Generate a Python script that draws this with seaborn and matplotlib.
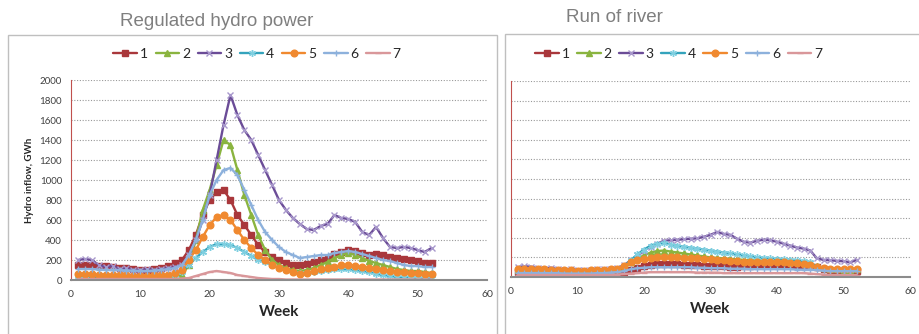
import numpy as np
import pandas as pd
import seaborn as sns
import matplotlib.pyplot as plt
from matplotlib.lines import Line2D
from matplotlib.patches import Rectangle

weeks = list(range(1, 53))
series_names = ["1", "2", "3", "4", "5", "6", "7"]

# Regulated hydro power, GWh per week
reg_1 = [150, 150, 150, 140, 140, 130, 120, 120, 110, 100, 100, 110, 120, 140, 170, 200, 300, 450, 650, 800,
         880, 900, 800, 650, 550, 450, 350, 280, 230, 200, 170, 150, 150, 160, 180, 200, 220, 260, 280, 300,
         290, 270, 250, 260, 250, 230, 220, 210, 200, 190, 170, 170]
reg_2 = [30, 30, 25, 25, 20, 20, 15, 10, 5, 0, 0, 0, 5, 10, 30, 50, 150, 400, 700, 900,
         1150, 1400, 1350, 1100, 850, 650, 450, 300, 200, 150, 120, 100, 90, 100, 120, 150, 180, 220, 250, 270,
         250, 220, 190, 170, 150, 130, 110, 100, 90, 90, 80, 70]
reg_3 = [200, 210, 200, 150, 130, 140, 110, 120, 100, 100, 110, 100, 110, 120, 130, 150, 250, 400, 600, 850,
         1200, 1550, 1850, 1650, 1500, 1400, 1250, 1100, 950, 800, 700, 620, 560, 510, 500, 540, 560, 650, 620, 610,
         580, 480, 450, 530, 420, 330, 320, 330, 320, 300, 280, 320]
reg_4 = [40, 40, 35, 35, 30, 30, 30, 30, 25, 25, 25, 30, 30, 40, 50, 80, 150, 220, 280, 330,
         360, 360, 350, 320, 280, 240, 200, 180, 150, 120, 100, 80, 70, 70, 80, 90, 100, 110, 110, 110,
         100, 90, 80, 60, 50, 40, 30, 30, 25, 20, 20, 20]
reg_5 = [60, 60, 60, 55, 55, 50, 50, 50, 45, 45, 45, 50, 50, 55, 70, 100, 200, 300, 430, 550,
         630, 650, 600, 500, 400, 320, 250, 200, 150, 120, 100, 80, 60, 70, 90, 110, 120, 130, 150, 150,
         140, 130, 120, 110, 100, 90, 80, 80, 70, 70, 60, 60]
reg_6 = [110, 110, 110, 105, 100, 100, 100, 95, 95, 90, 90, 95, 100, 110, 120, 150, 250, 400, 600, 850,
         1000, 1100, 1120, 1050, 900, 750, 600, 480, 400, 330, 280, 250, 220, 230, 240, 250, 250, 270, 280, 290,
         280, 260, 240, 220, 200, 190, 170, 150, 140, 140, 130, 130]
reg_7 = [10, 10, 10, 10, 10, 10, 10, 10, 10, 10, 10, 10, 10, 10, 10, 15, 20, 40, 60, 80,
         90, 80, 70, 50, 40, 30, 20, 15, 10, 10, 5, 5, 5, 5, 5, 5, 5, 5, 5, 5,
         5, 5, 5, 5, 5, 5, 5, 5, 5, 5, 5, 5]

# Run of river, GWh per week
ror_1 = [50, 55, 55, 50, 45, 45, 40, 35, 30, 25, 25, 25, 25, 30, 35, 40, 50, 70, 90, 110,
         120, 130, 135, 130, 130, 125, 120, 120, 115, 115, 110, 110, 105, 105, 110, 115, 120, 125, 130, 130,
         130, 125, 120, 115, 110, 100, 80, 70, 65, 60, 60, 60]
ror_2 = [70, 75, 75, 70, 70, 65, 65, 60, 60, 60, 60, 60, 65, 70, 75, 80, 100, 150, 190, 220,
         250, 265, 270, 260, 250, 240, 230, 220, 210, 200, 195, 190, 185, 180, 175, 170, 170, 170, 170, 170,
         165, 160, 155, 150, 140, 110, 90, 80, 80, 75, 75, 80]
ror_3 = [100, 110, 105, 90, 85, 95, 80, 75, 80, 75, 70, 75, 80, 80, 85, 95, 120, 170, 220, 270,
         310, 340, 370, 375, 380, 385, 390, 395, 410, 430, 460, 440, 430, 390, 360, 350, 370, 380, 375, 360,
         340, 320, 300, 290, 270, 190, 175, 170, 165, 160, 150, 175]
ror_4 = [70, 75, 75, 70, 70, 70, 65, 65, 65, 60, 60, 65, 65, 70, 75, 80, 110, 170, 230, 280,
         320, 340, 350, 330, 320, 310, 300, 290, 280, 270, 260, 250, 240, 230, 220, 210, 200, 195, 190, 185,
         180, 175, 170, 160, 150, 100, 90, 80, 80, 75, 75, 80]
ror_5 = [80, 85, 85, 80, 80, 75, 70, 70, 70, 65, 65, 70, 70, 75, 80, 85, 110, 150, 170, 185,
         195, 200, 205, 200, 200, 195, 195, 190, 185, 180, 175, 170, 165, 160, 155, 155, 155, 155, 150, 150,
         150, 145, 140, 130, 120, 100, 90, 85, 85, 80, 80, 80]
ror_6 = [40, 40, 40, 40, 40, 40, 40, 35, 35, 35, 35, 35, 40, 40, 45, 50, 60, 80, 90, 95,
         100, 100, 100, 100, 100, 100, 100, 95, 95, 90, 90, 90, 85, 85, 85, 80, 80, 80, 80, 80,
         80, 80, 75, 75, 75, 70, 65, 60, 60, 60, 60, 60]
ror_7 = [20, 20, 20, 20, 20, 20, 20, 20, 20, 20, 20, 20, 20, 20, 20, 25, 30, 35, 40, 45,
         50, 50, 50, 50, 50, 50, 50, 45, 45, 45, 45, 40, 40, 40, 40, 40, 40, 40, 40, 40,
         40, 40, 40, 40, 35, 30, 25, 20, 20, 20, 20, 20]

reg = [reg_1, reg_2, reg_3, reg_4, reg_5, reg_6, reg_7]
ror = [ror_1, ror_2, ror_3, ror_4, ror_5, ror_6, ror_7]

line_colors = ["#A9373B", "#8AB43F", "#6B4C97", "#34A3BC", "#F0892F", "#8DB1DC", "#D9979A"]
mark_colors = ["#A9373B", "#8AB43F", "#A898CC", "#7FCFE0", "#F0892F", "#8DB1DC", "#D9979A"]
markers = ["s", "^", "x", (6, 2, 0), "o", "+", "_"]
msizes = [4.8, 4.8, 5, 5, 4.8, 5, 4]

sns.set_style("white")
plt.rcParams['font.family'] = ['Lato', 'DejaVu Sans']

fig = plt.figure(figsize=(9.19, 3.34), dpi=100)

# panel frames like the Excel chart areas
fig.patches.append(Rectangle((8 / 919, -0.05), 489 / 919, 1 - 35 / 334 + 0.05, transform=fig.transFigure,
                             fill=False, edgecolor="#BFBFBF", linewidth=1))
fig.patches.append(Rectangle((505 / 919, -0.05), 0.5, 1 - 34 / 334 + 0.05, transform=fig.transFigure,
                             fill=False, edgecolor="#BFBFBF", linewidth=1))

ax1 = fig.add_axes([71 / 919, 1 - 280 / 334, 416 / 919, 200 / 334])
ax2 = fig.add_axes([511 / 919, 1 - 277 / 334, 399 / 919, 196 / 334])


def draw(ax, data):
    for i, vals in enumerate(data):
        df = pd.DataFrame({"Week": weeks, "GWh": vals})
        sns.lineplot(data=df, x="Week", y="GWh", ax=ax, color=line_colors[i], linewidth=1.7,
                     marker=markers[i], markersize=msizes[i], markerfacecolor=mark_colors[i],
                     markeredgecolor=mark_colors[i], markeredgewidth=1.0)
    ax.set_xlim(0, 60)
    ax.set_ylim(0, 2000)
    ax.set_xticks(range(0, 61, 10))
    ax.set_yticks(range(0, 2001, 200))
    ax.grid(False)
    ax.grid(True, axis="y", linestyle=(0, (1, 1.5)), color="#999999", linewidth=0.8, zorder=0)
    ax.set_axisbelow(True)
    for s in ["top", "right"]:
        ax.spines[s].set_visible(False)
    ax.spines["left"].set_color("#C0504D")
    ax.spines["bottom"].set_color("#8C8C8C")
    ax.spines["bottom"].set_linewidth(1.5)
    ax.tick_params(axis="x", colors="#8C8C8C", labelcolor="#404040", labelsize=7.5, length=4, direction="out")
    ax.tick_params(axis="y", colors="#C0504D", labelcolor="#404040", labelsize=7, length=3, direction="out")
    ax.set_xlabel("Week", fontsize=11, fontweight="bold", color="#262626")
    handles = [Line2D([0], [0], color=line_colors[i], linewidth=1.7, marker=markers[i], markersize=msizes[i],
                      markerfacecolor=mark_colors[i], markeredgecolor=mark_colors[i]) for i in range(7)]
    return handles


h = draw(ax1, reg)
ax1.set_ylabel("Hydro inflow, GWh", fontsize=7, fontweight="bold", color="#262626")
ax1.legend(h, series_names, loc="center", bbox_to_anchor=(0.447, 1.13), ncol=7, frameon=False,
           fontsize=10, handlelength=1.7, handletextpad=0.2, columnspacing=0.55)

h = draw(ax2, ror)
ax2.set_ylabel("")
ax2.set_yticklabels([])
ax2.legend(h, series_names, loc="center", bbox_to_anchor=(0.42, 1.14), ncol=7, frameon=False,
           fontsize=10, handlelength=1.7, handletextpad=0.2, columnspacing=0.55)

fig.text(120 / 919, 1 - 21 / 334, "Regulated hydro power", ha="left", va="center", fontsize=13.5,
         color="#7F7F7F", family=["Liberation Sans Narrow", "Liberation Sans", "DejaVu Sans"])
fig.text(566 / 919, 1 - 18 / 334, "Run of river", ha="left", va="center", fontsize=13.5,
         color="#7F7F7F", family=["Liberation Sans Narrow", "Liberation Sans", "DejaVu Sans"])

fig.savefig("out.png", dpi=100, facecolor="white")
